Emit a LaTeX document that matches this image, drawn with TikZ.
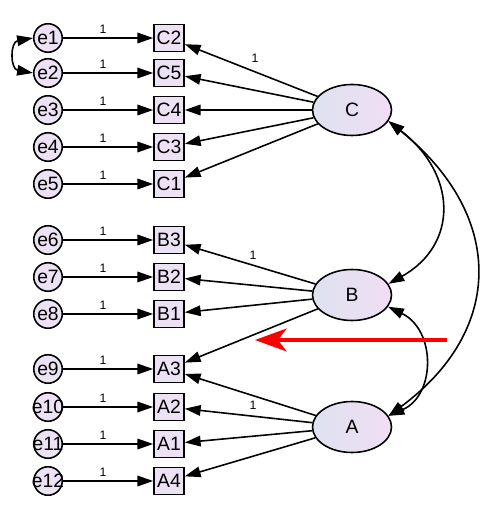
\documentclass[tikz,border=0pt]{standalone}
\usepackage{fontspec}
\setmainfont{Liberation Sans}
\usetikzlibrary{arrows.meta,shapes.geometric}
\definecolor{boxfill}{RGB}{236,226,244}
\definecolor{ellL}{RGB}{222,226,240}
\definecolor{ellR}{RGB}{240,222,244}
\begin{document}
\begin{tikzpicture}[x=0.02cm,y=-0.02cm,
  tip/.style={-{Triangle[length=9pt,width=6pt]}},
  lnk/.style={draw=black,line width=0.9pt,tip},
  cov/.style={draw=black,line width=0.9pt,{Triangle[length=9pt,width=6pt]}-{Triangle[length=9pt,width=6pt]}},
  errnode/.style={circle,draw=black,line width=0.9pt,fill=boxfill,minimum size=0.57cm,inner sep=0pt,font=\fontsize{11}{12}\selectfont},
  obs/.style={rectangle,draw=black,line width=0.9pt,fill=boxfill,minimum width=0.6cm,minimum height=0.54cm,inner sep=0pt,font=\fontsize{11}{12}\selectfont},
  lat/.style={ellipse,draw=black,line width=0.9pt,left color=ellL,right color=ellR,minimum width=1.58cm,minimum height=1.02cm,inner sep=0pt,font=\fontsize{11}{12}\selectfont},
  one/.style={font=\fontsize{7}{8}\selectfont,inner sep=0pt}]
\useasboundingbox (0,0) rectangle (500,519);
% error terms and indicators
\foreach \e/\v/\y in {1/C2/38,2/C5/73,3/C4/110,4/C3/147,5/C1/184,6/B3/240,7/B2/277,8/B1/314,9/A3/369,10/A2/407,11/A1/444,12/A4/481}{
  \node[errnode] (e\e) at (48,\y) {\makebox[0pt]{e\e}};
  \node[obs] (\v) at (169,\y) {\v};
  \draw[lnk] (e\e) -- (\v);
  \node[one] (l\e) at (103,\y-9) {1};
}
% latent factors
\node[lat] (C) at (352,110) {C};
\node[lat] (B) at (352,295) {B};
\node[lat] (A) at (352,427) {A};
\foreach \v in {C2,C5,C4,C3,C1}{\draw[lnk] (C) -- (\v);}
\foreach \v in {B3,B2,B1,A3}{\draw[lnk] (B) -- (\v);}
\foreach \v in {A3,A2,A1,A4}{\draw[lnk] (A) -- (\v);}
\node[one] (lc) at (255,58) {1};
\node[one] (lb) at (253,255) {1};
\node[one] (la) at (253,405) {1};
% covariances
\draw[cov] (e1.west) .. controls (10,42) and (10,69) .. (e2.west);
\draw[cov] (C.-17) .. controls (458,175) and (458,245) .. (B.17);
\draw[cov] (C.-17) .. controls (505,215) and (505,330) .. (A.17);
\draw[cov] (B.-18) .. controls (436,330) and (436,395) .. (A.17);
% red arrow
\coordinate (r1) at (447,340);
\coordinate (r2) at (255,340);
\draw[red,line width=1.8pt,-{Stealth[length=18pt,width=13pt,inset=5pt]}] (r1) -- (r2);
\end{tikzpicture}
\end{document}
